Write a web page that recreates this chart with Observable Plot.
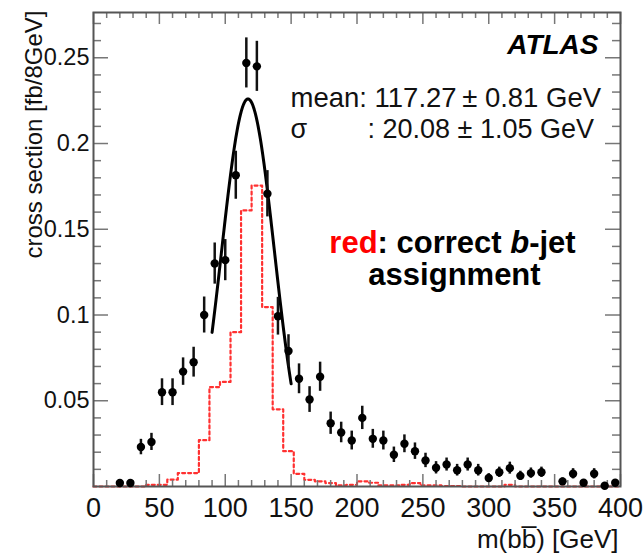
<!DOCTYPE html>
<html><head><meta charset="utf-8">
<script src="https://cdn.jsdelivr.net/npm/d3@7"></script>
<script src="https://cdn.jsdelivr.net/npm/@observablehq/plot@0.6"></script>
<style>
body{margin:0;background:#fff;}
#chart svg{display:block;}
</style></head>
<body><div id="chart"></div>
<script>
// ---- data ----
const binCenters = [20,28,36,44,52,60,68,76,84,92,100,108,116,124,132,140,148,156,164,172,180,188,196,204,212,220,228,236,244,252,260,268,276,284,292,300,308,316,324,332,340,356,364,372,380,388,396];
const xsec = [0.002,0.002,0.023,0.026,0.055,0.055,0.067,0.0725,0.100,0.130,0.132,0.1815,0.247,0.245,0.1707,0.0993,0.079,0.0628,0.0507,0.064,0.0369,0.0315,0.0268,0.040,0.0278,0.0268,0.0185,0.0249,0.0206,0.0152,0.0109,0.0128,0.0095,0.0128,0.0095,0.005,0.0083,0.0107,0.0062,0.0078,0.0083,0.003,0.0074,0.0022,0.0074,0.0004,0.0022];
const xsecErr = [0.0015,0.0015,0.0045,0.005,0.0078,0.0078,0.008,0.0087,0.0105,0.012,0.012,0.014,0.0146,0.0146,0.0135,0.011,0.0095,0.0087,0.0075,0.0085,0.0065,0.006,0.0055,0.0068,0.0055,0.0055,0.0045,0.0052,0.0048,0.0042,0.0036,0.0038,0.0034,0.0038,0.0034,0.0025,0.003,0.0035,0.0027,0.003,0.003,0.002,0.003,0.0016,0.003,0.001,0.0016];

const redLowEdges = [0,8,16,24,32,40,48,56,64,72,80,88,96,104,112,120,128,136,144,152,160,168,176,184,192,200,208,216,224,232,240,248,256,264,272,280,288,296,304,312,320,328,336,344,352,360,368,376,384,392];
const redValues = [0,0,0,0,0,0.001,0.001,0.004,0.0078,0.0078,0.027,0.058,0.061,0.090,0.161,0.1755,0.1046,0.045,0.0206,0.0074,0.0039,0.003,0.002,0.0006,0.001,0.003,0.0022,0.0006,0.0006,0.001,0.002,0.0006,0.0006,0.0003,0.0003,0,0,0,0,0.001,0,0,0,0,0,0,0,0,0,0];
const xUpper = 400;

const fitMean = 117.27, fitSigma = 20.08, fitAmp = 0.226;
const fitRange = [90, 150];

const xMajorTicks = [0,50,100,150,200,250,300,350,400];
const xMinorTicks = [10,20,30,40,60,70,80,90,110,120,130,140,160,170,180,190,210,220,230,240,260,270,280,290,310,320,330,340,360,370,380,390];
const yMajorTicks = [0.05,0.1,0.15,0.2,0.25];
const yMinorTicks = [0.01,0.02,0.03,0.04,0.06,0.07,0.08,0.09,0.11,0.12,0.13,0.14,0.16,0.17,0.18,0.19,0.21,0.22,0.23,0.24,0.26,0.27];

const yLabel = "cross section [fb/8GeV]";
const xLabel = "m(bb\u0305) [GeV]";
const atlasText = "ATLAS";
const meanText = "mean: 117.27\u2009\u00b1 0.81 GeV";
const sigmaSym = "\u03c3";
const sigmaText = ": 20.08 \u00b1 1.05 GeV";
const noteLine1 = "red: correct b-jet";
const noteLine2 = "assignment";

// ---- build tables ----
const points = binCenters.map((x, i) => ({x, y: xsec[i], e: xsecErr[i]}));
const redSteps = redLowEdges.map((x, i) => ({x, y: redValues[i]}));
redSteps.push({x: xUpper, y: redValues[redValues.length - 1]});
const fitCurve = d3.range(fitRange[0], fitRange[1] + 0.01, 0.5).map(x => ({x, y: fitAmp * Math.exp(-0.5 * ((x - fitMean) / fitSigma) ** 2)}));

const W = 644, H = 553, mL = 93, mR = 24, mT = 12, mB = 67;
const iW = W - mL - mR, iH = H - mT - mB;
const tickCol = "#777";
const font = "'Liberation Sans', Arial, Helvetica, sans-serif";

const svg = Plot.plot({
  width: W, height: H,
  marginLeft: mL, marginRight: mR, marginTop: mT, marginBottom: mB,
  x: {domain: [0, 400], label: null, axis: null},
  y: {domain: [0, 0.2764], label: null, axis: null},
  style: {fontFamily: font, fontSize: "27px", color: "#111", background: "#fff"},
  marks: [
    // red histogram (correct assignment)
    Plot.line(redSteps, {x: "x", y: "y", curve: "step-after", stroke: "#ff3030", strokeWidth: 2.2, strokeDasharray: "3,3"}),
    // ticks, ROOT-style (inward, all four sides)
    Plot.ruleX(xMajorTicks, {x: d => d, insetTop: iH - 12, stroke: tickCol, strokeWidth: 1.5}),
    Plot.ruleX(xMinorTicks, {x: d => d, insetTop: iH - 6, stroke: tickCol, strokeWidth: 1.5}),
    Plot.ruleX(xMajorTicks, {x: d => d, insetBottom: iH - 12, stroke: tickCol, strokeWidth: 1.5}),
    Plot.ruleX(xMinorTicks, {x: d => d, insetBottom: iH - 6, stroke: tickCol, strokeWidth: 1.5}),
    Plot.ruleY(yMajorTicks, {y: d => d, insetRight: iW - 15, stroke: tickCol, strokeWidth: 1.5}),
    Plot.ruleY(yMinorTicks, {y: d => d, insetRight: iW - 8, stroke: tickCol, strokeWidth: 1.5}),
    Plot.ruleY(yMajorTicks, {y: d => d, insetLeft: iW - 15, stroke: tickCol, strokeWidth: 1.5}),
    Plot.ruleY(yMinorTicks, {y: d => d, insetLeft: iW - 8, stroke: tickCol, strokeWidth: 1.5}),
    Plot.frame({stroke: "#555", strokeWidth: 2}),
    Plot.axisX({ticks: xMajorTicks, tickSize: 0, tickPadding: 11, tickFormat: d => String(d), fontSize: 27, label: null}),
    Plot.axisY({ticks: yMajorTicks, tickSize: 0, tickPadding: 4, tickFormat: d => String(d), fontSize: 23.5, label: null}),
    // Gaussian fit
    Plot.line(fitCurve, {x: "x", y: "y", stroke: "#000", strokeWidth: 3}),
    // data with error bars
    Plot.ruleX(points, {x: "x", y1: d => Math.max(0, d.y - d.e), y2: d => d.y + d.e, stroke: "#111", strokeWidth: 2.5}),
    Plot.dot(points, {x: "x", y: "y", r: 4.2, fill: "#000", stroke: null}),
    // texts
    Plot.text([atlasText], {text: d => d, frameAnchor: "top-right", dx: -22, dy: 41, textAnchor: "end", lineAnchor: "bottom", fontWeight: "bold", fontStyle: "italic", fontSize: 28, fill: "#000"}),
    Plot.text([meanText], {text: d => d, frameAnchor: "top-left", dx: 197, dy: 94, textAnchor: "start", lineAnchor: "bottom", fontSize: 27.5, fill: "#111"}),
    Plot.text([sigmaSym], {text: d => d, frameAnchor: "top-left", dx: 197, dy: 125, textAnchor: "start", lineAnchor: "bottom", fontSize: 27, fill: "#111"}),
    Plot.text([sigmaText], {text: d => d, frameAnchor: "top-left", dx: 274, dy: 125, textAnchor: "start", lineAnchor: "bottom", fontSize: 27, fill: "#111"}),
    Plot.text([noteLine1], {text: d => d, frameAnchor: "top-left", dx: 359, dy: 240, textAnchor: "middle", lineAnchor: "bottom", fontWeight: "bold", fontSize: 31, fill: "#000"}),
    Plot.text([noteLine2], {text: d => d, frameAnchor: "top-left", dx: 361, dy: 272, textAnchor: "middle", lineAnchor: "bottom", fontWeight: "bold", fontSize: 31, fill: "#000"}),
    Plot.text([yLabel], {text: d => d, frameAnchor: "top-left", rotate: -90, dx: -52, dy: -2, textAnchor: "end", lineAnchor: "bottom", fontSize: 24, fill: "#111"}),
    Plot.text([xLabel], {text: d => d, frameAnchor: "bottom-right", dx: -2, dy: 61, textAnchor: "end", lineAnchor: "bottom", fontSize: 26, fill: "#111"})
  ]
});

// rich formatting of the annotation (red word, italic b)
const noteEl = [...svg.querySelectorAll("text")].find(n => n.textContent === noteLine1);
if (noteEl) {
  noteEl.textContent = "";
  const parts = [["red", {fill: "#ff0000"}], [": correct ", {}], ["b", {"font-style": "italic"}], ["-jet", {}]];
  for (const [s, attrs] of parts) {
    const ts = document.createElementNS("http://www.w3.org/2000/svg", "tspan");
    ts.textContent = s;
    for (const k in attrs) ts.setAttribute(k, attrs[k]);
    noteEl.appendChild(ts);
  }
}
document.getElementById("chart").appendChild(svg);
</script>
</body></html>
